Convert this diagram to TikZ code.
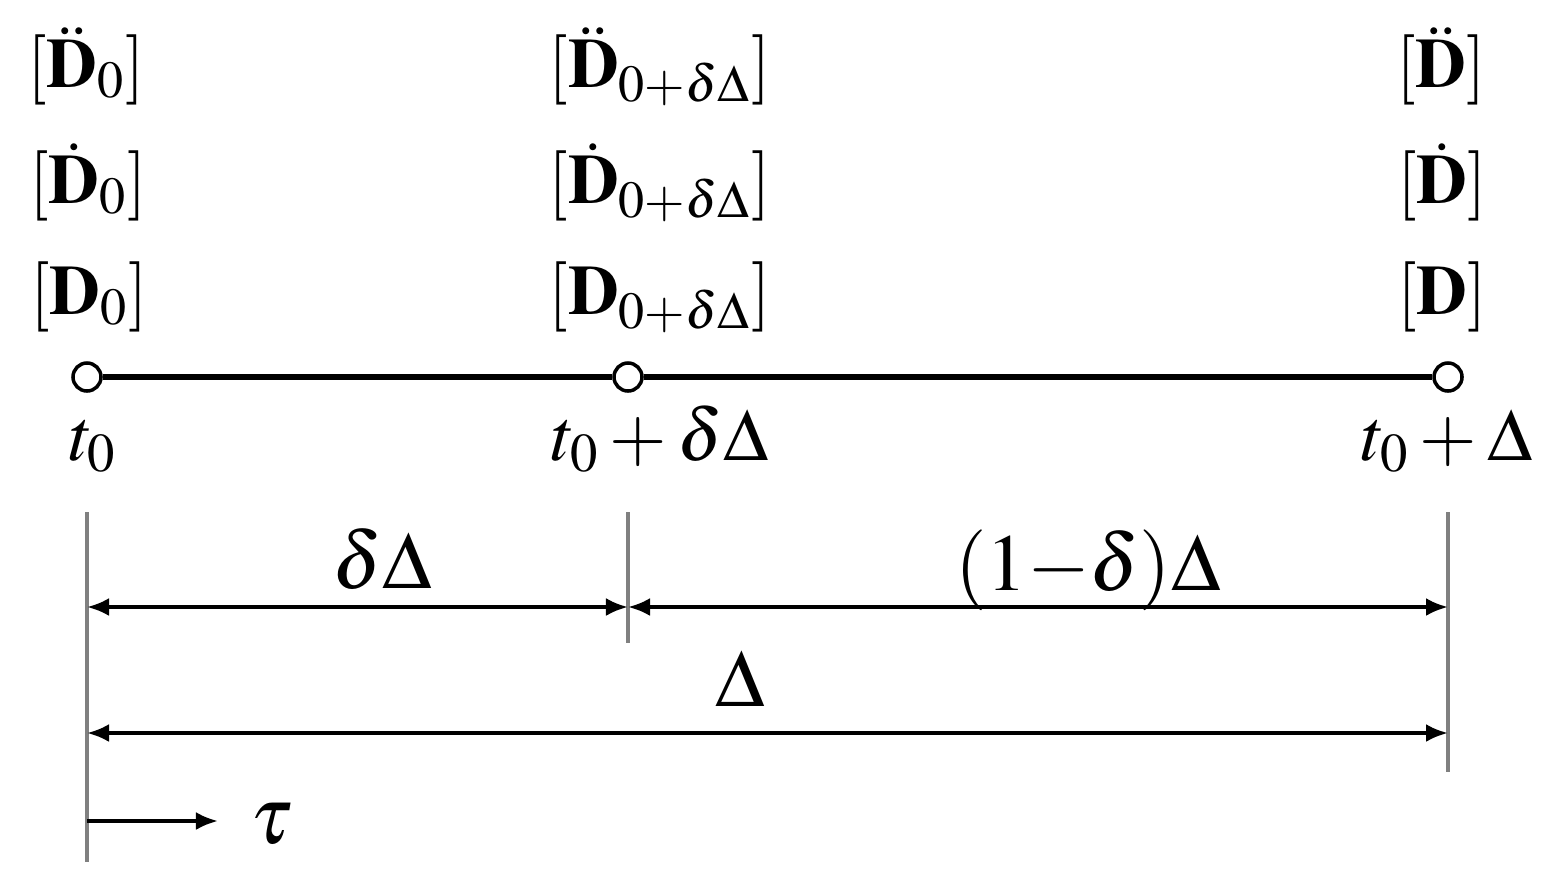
\documentclass[tikz,border=0pt]{standalone}
\usepackage{mathptmx}
\usepackage{fontspec}
\setmainfont{Liberation Serif}
\usetikzlibrary{arrows.meta,positioning}

\begin{document}
\begin{tikzpicture}[
    x=0.01cm, y=-0.01cm,
    tpt/.style={circle, draw, fill=white, line width=1pt,
                minimum size=0.28cm, inner sep=0pt},
    mat/.style={anchor=base, inner sep=0pt, font=\fontsize{20}{24}\selectfont},
    tlab/.style={anchor=base, inner sep=0pt, font=\fontsize{21}{24}\selectfont},
    dlab/.style={anchor=base, inner sep=0pt, font=\fontsize{23}{26}\selectfont},
    guide/.style={gray, line width=1.2pt},
    dim/.style={arrows={Latex[length=0.22cm, width=0.18cm]-Latex[length=0.22cm, width=0.18cm]}, line width=1.1pt}
  ]
    \useasboundingbox (0,0) rectangle (1546,881);

    % time axis
    \node[tpt] (p0) at (87, 377) {};
    \node[tpt] (p1) at (628, 377) {};
    \node[tpt] (p2) at (1448, 377) {};
    \draw[line width=1.7pt] (p0) -- (p1);
    \draw[line width=1.7pt] (p1) -- (p2);

    \node[tlab] (t0) at (93, 460) {$t_0$};
    \node[tlab] (t1) at (660, 460) {$t_0+\delta\Delta$};
    \node[tlab] (t2) at (1447, 460) {$t_0+\Delta$};

    % state vectors
    \node[mat] (a0) at (86, 87) {$[\ddot{\mathbf{D}}_0]$};
    \node[mat] (v0) at (88, 203) {$[\dot{\mathbf{D}}_0]$};
    \node[mat] (d0) at (89, 314) {$[\mathbf{D}_0]$};
    \node[mat, anchor=base west] (a1) at (548, 87) {$[\ddot{\mathbf{D}}_{0+\delta\Delta}]$};
    \node[mat, anchor=base west] (v1) at (548, 203) {$[\dot{\mathbf{D}}_{0+\delta\Delta}]$};
    \node[mat, anchor=base west] (d1) at (548, 314) {$[\mathbf{D}_{0+\delta\Delta}]$};
    \node[mat] (a2) at (1441, 87) {$[\ddot{\mathbf{D}}]$};
    \node[mat] (v2) at (1442, 203) {$[\dot{\mathbf{D}}]$};
    \node[mat] (d2) at (1442, 314) {$[\mathbf{D}]$};

    % guides
    \coordinate (g0a) at (87, 512);
    \coordinate (g0b) at (87, 862);
    \coordinate (g1a) at (628, 512);
    \coordinate (g1b) at (628, 643);
    \coordinate (g2a) at (1448, 512);
    \coordinate (g2b) at (1448, 772);
    \draw[guide] (g0a) -- (g0b);
    \draw[guide] (g1a) -- (g1b);
    \draw[guide] (g2a) -- (g2b);

    % dimensions
    \coordinate (s0) at (87, 607);
    \coordinate (s1) at (628, 607);
    \coordinate (s2) at (1448, 607);
    \coordinate (w0) at (87, 733);
    \coordinate (w2) at (1448, 733);
    \draw[dim] (s0) -- (s1);
    \draw[dim] (s1) -- (s2);
    \draw[dim] (w0) -- (w2);

    \node[dlab] (l1) at (382, 588) {$\delta\Delta$};
    \node[dlab] (l2) at (1088, 590) {$(1{-}\delta)\Delta$};
    \node[dlab] (l3) at (740, 706) {$\Delta$};

    % local time
    \coordinate (tau0) at (87, 821);
    \coordinate (tau1) at (218, 821);
    \draw[-{Latex[length=0.22cm, width=0.18cm]}, line width=1.1pt] (tau0) -- (tau1);
    \node[dlab, anchor=base west] (tau) at (250, 843) {$\tau$};
  \end{tikzpicture}
\end{document}
